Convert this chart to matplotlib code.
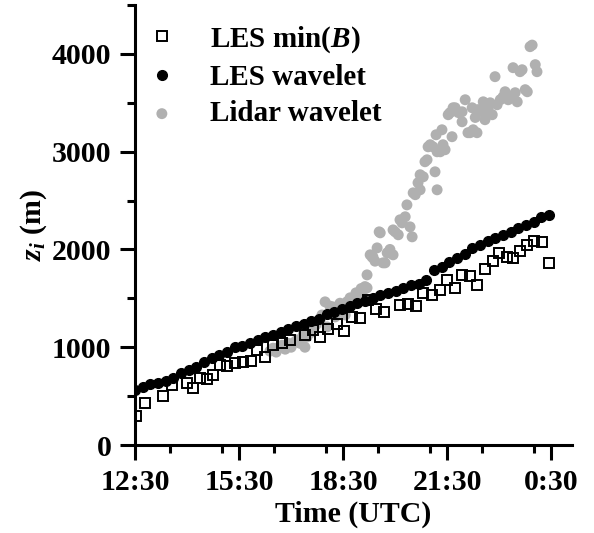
import numpy as np
import matplotlib
matplotlib.use("Agg")
import matplotlib.pyplot as plt
from matplotlib.ticker import MultipleLocator

plt.rcParams['font.family'] = ['Liberation Serif', 'DejaVu Serif']
plt.rcParams['font.weight'] = 'bold'
plt.rcParams['mathtext.fontset'] = 'custom'
plt.rcParams['mathtext.rm'] = 'Liberation Serif:bold'
plt.rcParams['mathtext.it'] = 'Liberation Serif:italic:bold'
plt.rcParams['mathtext.bf'] = 'Liberation Serif:bold'

# ---- data (time in decimal hours UTC, >24 means next day) ----
les_wavelet_t = np.linspace(12.5, 24.44, 55)
les_wavelet_z = [563, 594, 620, 630, 650, 690, 740, 770, 800, 850,
                 890, 920, 955, 1000, 1010, 1045, 1075, 1105, 1130, 1160,
                 1190, 1220, 1235, 1265, 1290, 1340, 1360, 1390, 1420, 1450,
                 1470, 1500, 1530, 1555, 1580, 1610, 1635, 1645, 1690, 1790,
                 1820, 1870, 1910, 1950, 2010, 2045, 2090, 2120, 2150, 2180,
                 2220, 2250, 2285, 2330, 2355]

les_minb_t = [12.53, 12.79, 13.31, 13.57, 14.00, 14.17, 14.37, 14.58, 14.75, 14.95,
              15.15, 15.38, 15.61, 15.84, 16.02, 16.25, 16.48, 16.74, 16.97, 17.40,
              17.63, 17.83, 18.06, 18.32, 18.52, 18.75, 18.98, 19.21, 19.45, 19.68,
              20.14, 20.37, 20.60, 20.81, 21.07, 21.30, 21.50, 21.73, 21.93, 22.16,
              22.36, 22.60, 22.83, 23.00, 23.23, 23.40, 23.60, 23.81, 24.01, 24.24,
              24.44]
les_minb_z = [297, 430, 500, 614, 635, 583, 690, 680, 716, 818,
              808, 840, 850, 860, 970, 900, 1024, 1044, 1075, 1126,
              1177, 1105, 1187, 1238, 1167, 1310, 1300, 1484, 1392, 1361,
              1433, 1443, 1423, 1556, 1530, 1586, 1689, 1607, 1740, 1730,
              1638, 1801, 1883, 1965, 1924, 1914, 1986, 2047, 2088, 2078,
              1863]

lidar_t = [16.39, 16.48, 16.57, 16.65, 16.74, 16.83, 16.91, 17.00, 17.09, 17.17,
           17.26, 17.35, 17.40, 17.46, 17.55, 17.63, 17.72, 17.84, 17.89, 17.98,
           18.04, 18.12, 18.21, 18.27, 18.33, 18.41, 18.50, 18.56, 18.61, 18.70,
           18.79, 18.87, 18.93, 19.02, 19.08, 19.13, 19.19, 19.19, 19.28, 19.34,
           19.36, 19.42, 19.48, 19.54, 19.57, 19.65, 19.71, 19.77, 19.85, 19.94,
           19.94, 20.00, 20.09, 20.14, 20.20, 20.29, 20.34, 20.43, 20.49, 20.52,
           20.58, 20.66, 20.72, 20.72, 20.81, 20.86, 20.92, 20.95, 21.01, 21.09,
           21.15, 21.18, 21.21, 21.21, 21.30, 21.35, 21.38, 21.44, 21.53, 21.58,
           21.64, 21.67, 21.73, 21.82, 21.93, 21.93, 22.02, 22.10, 22.16, 22.22,
           22.25, 22.31, 22.36, 22.39, 22.51, 22.54, 22.59, 22.68, 22.74, 22.80,
           22.88, 22.94, 23.03, 23.11, 23.17, 23.26, 23.37, 23.40, 23.46, 23.52,
           23.60, 23.66, 23.75, 23.81, 23.89, 23.95, 24.04, 24.09]
lidar_z = [960, 990, 950, 1000, 1020, 980, 1040, 1000, 1050, 1075,
           1040, 1126, 1000, 1105, 1146, 1180, 1230, 1279, 1330, 1464,
           1208, 1420, 1412, 1310, 1402, 1450, 1420, 1330, 1464, 1505,
           1480, 1556, 1530, 1600, 1515, 1620, 1740, 1607, 1945, 1920,
           1924, 1880, 2016, 2180, 2170, 1863, 1863, 1965, 2000, 1945,
           2200, 2180, 2150, 2303, 2272, 2334, 2456, 2231, 2129, 2579,
           2560, 2682, 2610, 2764, 2743, 2897, 2917, 3050, 3071, 3050,
           2794, 3173, 2610, 2999, 2999, 3224, 3071, 3020, 3378, 3398,
           3153, 3449, 3449, 3400, 3306, 3408, 3531, 3194, 3194, 3449,
           3224, 3350, 3194, 3430, 3408, 3510, 3327, 3429, 3500, 3378,
           3767, 3480, 3531, 3560, 3613, 3531, 3562, 3859, 3603, 3510,
           3818, 3838, 3634, 3613, 4074, 4090, 3890, 3818]

xtick_pos = [12.5, 15.5, 18.5, 21.5, 24.5]
xtick_labels = ['12:30', '15:30', '18:30', '21:30', '0:30']
ytick_pos = [0, 1000, 2000, 3000, 4000]

# ---- figure ----
fig = plt.figure(figsize=(5.94, 5.33), dpi=100)
ax = fig.add_axes([0.2273, 0.1651, 0.7357, 0.8255])

ax.scatter(lidar_t, lidar_z, s=62, color='#b0b0b0', edgecolors='none',
           zorder=1, label='Lidar wavelet')
ax.plot(les_wavelet_t, les_wavelet_z, 'o', ms=7.0, color='black', mec='black',
        zorder=2, label='LES wavelet')
ax.plot(les_minb_t, les_minb_z, 's', ms=7.6, mfc='none', mec='black', mew=1.4,
        zorder=3, label='LES min($B$)')

ax.set_xlim(12.5, 25.1)
ax.set_ylim(0, 4500)
ax.set_xticks(xtick_pos)
ax.set_xticklabels(xtick_labels)
ax.set_yticks(ytick_pos)
ax.xaxis.set_minor_locator(MultipleLocator(1.5))
ax.yaxis.set_minor_locator(MultipleLocator(500))

for s in ['top', 'right']:
    ax.spines[s].set_visible(False)
for s in ['left', 'bottom']:
    ax.spines[s].set_linewidth(2.2)

ax.tick_params(which='major', direction='out', length=11, width=2.2,
               labelsize=21.5, pad=6)
ax.tick_params(which='minor', direction='out', length=6, width=2.2)
for lab in ax.get_xticklabels() + ax.get_yticklabels():
    lab.set_fontweight('bold')

ax.set_xlabel('Time (UTC)', fontsize=21.5, fontweight='bold', labelpad=4)
ax.set_ylabel('$z_i$ (m)', fontsize=21.5, fontweight='bold', labelpad=2)

handles, labels = ax.get_legend_handles_labels()
order = [2, 1, 0]
leg = ax.legend([handles[i] for i in order], [labels[i] for i in order],
                loc='upper left', bbox_to_anchor=(-0.012, 0.99), frameon=False,
                prop={'size': 21, 'weight': 'bold'}, handletextpad=1.05,
                labelspacing=0.32, handlelength=1.2, borderaxespad=0.1)

fig.savefig('out.png', dpi=100)
